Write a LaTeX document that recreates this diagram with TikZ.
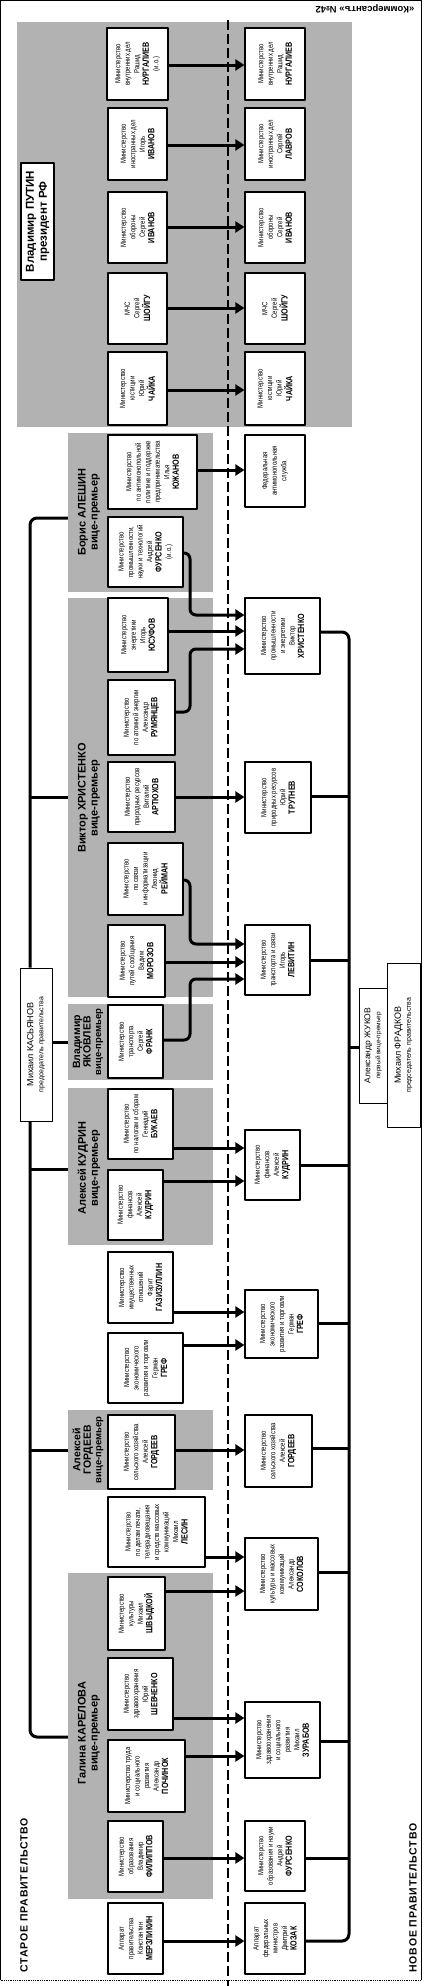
\documentclass[tikz,border=0pt]{standalone}
\usepackage{fontspec}
\setmainfont{Liberation Sans}
\newfontfamily\boxfont[FakeStretch=0.8]{Liberation Sans}
\newfontfamily\spacedfont[LetterSpace=8]{Liberation Sans}
\usetikzlibrary{arrows.meta}
\definecolor{grp}{gray}{0.7}
\newcommand{\nm}[1]{{\fontsize{9}{10}\selectfont\bfseries #1}}

\begin{document}
\begin{tikzpicture}[x=1pt,y=-1pt,line join=round,
	>={Triangle[length=9pt,width=11pt]},
	ministry/.style={draw,fill=white,line width=1.2pt,rotate=90,align=center,inner sep=1pt,
		font=\boxfont\fontsize{7.5}{9.5}\selectfont},
	group/.style={fill=grp,rotate=90,inner sep=0pt},
	vp/.style={rotate=90,align=center,font=\bfseries\fontsize{11}{12}\selectfont},
	head/.style={draw,fill=white,line width=1pt,rotate=90,align=center,inner sep=1pt},
	link/.style={line width=3pt}]
	\def\xs{30} % spine of old cabinet
	\def\xb{349} % spine of new cabinet
	\def\xd{228} % dashed border
	\def\xk{190} % bends of merged lines
	\useasboundingbox (0,0) rectangle (426,1986);
	% frame
	\draw[line width=0.8pt] (0.5,1980) -- (0.5,0.5) -- (421.5,0.5) -- (421.5,1980);
	\draw[line width=0.8pt,densely dotted] (0.5,1980) -- (421.5,1980);
	\node[rotate=180,font=\bfseries\fontsize{9.5}{10}\selectfont] (kom) at (365,9) {«Коммерсантъ» №42};
	% grey groups
	\node[group,minimum width=405,minimum height=335] (gPut) at (184.5,224.5) {};
	\node[group,minimum width=159,minimum height=145] (gAle) at (140.5,512.5) {};
	\node[group,minimum width=399,minimum height=145] (gHri) at (140.5,797.5) {};
	\node[group,minimum width=76,minimum height=145] (gYak) at (140.5,1042) {};
	\node[group,minimum width=157,minimum height=145] (gKud) at (140.5,1166.5) {};
	\node[group,minimum width=80,minimum height=145] (gGor) at (140.5,1450) {};
	\node[group,minimum width=326,minimum height=145] (gKar) at (140.5,1736) {};
	\draw[line width=1.5pt,dash pattern=on 10pt off 4pt] (\xd,20) -- (\xd,1986);
	% heads
	\node[head,line width=1.2pt,minimum width=117,minimum height=33,font=\bfseries\fontsize{11.5}{13}\selectfont] (put) at (37.5,221.5) {Владимир ПУТИН\\президент РФ};
	\node[head,minimum width=153,minimum height=32,font=\fontsize{9}{10}\selectfont] (kas) at (36,1044.5) {Михаил КАСЬЯНОВ\\{\fontsize{7}{8}\selectfont председатель правительства}};
	\node[head,minimum width=115,minimum height=28,font=\fontsize{8.5}{10}\selectfont] (zhu) at (373,1045.5) {Александр ЖУКОВ\\{\fontsize{6.5}{7.5}\selectfont первый вице-премьер}};
	\node[head,minimum width=164,minimum height=33,font=\fontsize{9}{10}\selectfont] (fra) at (403.5,1045) {Михаил ФРАДКОВ\\{\fontsize{7}{8}\selectfont председатель правительства}};
	\node[vp] (lAle) at (89,512) {Борис АЛЕШИН\\вице-премьер};
	\node[vp] (lHri) at (89,798) {Виктор ХРИСТЕНКО\\вице-премьер};
	\node[vp,font=\bfseries\fontsize{10.5}{10.5}\selectfont] (lYak) at (88,1042) {Владимир\\ЯКОВЛЕВ\\{\fontsize{9.5}{10}\selectfont вице-премьер}};
	\node[vp] (lKud) at (89,1168) {Алексей КУДРИН\\вице-премьер};
	\node[vp,font=\bfseries\fontsize{10.5}{10.5}\selectfont] (lGor) at (88,1450) {Алексей\\ГОРДЕЕВ\\{\fontsize{9.5}{10}\selectfont вице-премьер}};
	\node[vp] (lKar) at (89,1733) {Галина КАРЕЛОВА\\вице-премьер};
	\node[rotate=90,font=\spacedfont\bfseries\fontsize{10.5}{12}\selectfont] (old) at (24,1895) {СТАРОЕ ПРАВИТЕЛЬСТВО};
	\node[rotate=90,font=\spacedfont\bfseries\fontsize{10.5}{12}\selectfont] (new) at (413,1898) {НОВОЕ ПРАВИТЕЛЬСТВО};
	% old cabinet
	\node[ministry,minimum width=72,minimum height=61] (nurO) at (137.5,64) {Министерство\\внутренних дел\\Рашид\\\nm{НУРГАЛИЕВ}\\(и.о.)};
	\node[ministry,minimum width=72,minimum height=59] (ivaO) at (137.5,144) {Министерство\\иностранных дел\\Игорь\\\nm{ИВАНОВ}};
	\node[ministry,minimum width=71,minimum height=59] (obrO) at (137.5,227.5) {Министерство\\обороны\\Сергей\\\nm{ИВАНОВ}};
	\node[ministry,minimum width=71,minimum height=59] (mchO) at (137.5,308.5) {МЧС\\Сергей\\\nm{ШОЙГУ}};
	\node[ministry,minimum width=73,minimum height=59] (yusO) at (137.5,388.5) {Министерство\\юстиции\\Юрий\\\nm{ЧАЙКА}};
	\node[ministry,minimum width=74,minimum height=89] (yuzO) at (152.5,472) {Министерство\\по антимонопольной\\политике и поддержке\\предпринимательства\\Илья\\\nm{ЮЖАНОВ}};
	\node[ministry,minimum width=70,minimum height=75] (furO) at (145.5,552) {Министерство\\промышленности,\\науки и технологий\\Андрей\\\nm{ФУРСЕНКО}\\(и.о.)};
	\node[ministry,minimum width=74,minimum height=60] (eneO) at (138,635) {Министерство\\энергетики\\Игорь\\\nm{ЮСУФОВ}};
	\node[ministry,minimum width=75,minimum height=67] (atoO) at (141.5,717.5) {Министерство\\по атомной энергии\\Александр\\\nm{РУМЯНЦЕВ}};
	\node[ministry,minimum width=70,minimum height=67] (priO) at (141.5,797) {Министерство\\природных ресурсов\\Виталий\\\nm{АРТЮХОВ}};
	\node[ministry,minimum width=72,minimum height=75] (svyO) at (145.5,879) {Министерство\\по связи\\и информатизации\\Леонид\\\nm{РЕЙМАН}};
	\node[ministry,minimum width=72,minimum height=57] (mpsO) at (136.5,961) {Министерство\\путей сообщения\\Вадим\\\nm{МОРОЗОВ}};
	\node[ministry,minimum width=73,minimum height=55] (traO) at (135.5,1041.5) {Министерство\\транспорта\\Сергей\\\nm{ФРАНК}};
	\node[ministry,minimum width=70,minimum height=65] (nalO) at (140.5,1124) {Министерство\\по налогам и сборам\\Геннадий\\\nm{БУКАЕВ}};
	\node[ministry,minimum width=70,minimum height=55] (finO) at (135.5,1205) {Министерство\\финансов\\Алексей\\\nm{КУДРИН}};
	\node[ministry,minimum width=71,minimum height=65] (imuO) at (140.5,1287.5) {Министерство\\имущественных\\отношений\\Фарит\\\nm{ГАЗИЗУЛЛИН}};
	\node[ministry,minimum width=70,minimum height=75] (ecoO) at (145.5,1368) {Министерство\\экономического\\развития и торговли\\Герман\\\nm{ГРЕФ}};
	\node[ministry,minimum width=74,minimum height=67] (selO) at (141.5,1452) {Министерство\\сельского хозяйства\\Алексей\\\nm{ГОРДЕЕВ}};
	\node[ministry,minimum width=70,minimum height=97] (pecO) at (156.5,1532) {Министерство\\по делам печати,\\телерадиовещания\\и средств массовых\\коммуникаций\\Михаил\\\nm{ЛЕСИН}};
	\node[ministry,minimum width=73,minimum height=57] (kulO) at (136.5,1613.5) {Министерство\\культуры\\Михаил\\\nm{ШВЫДКОЙ}};
	\node[ministry,minimum width=72,minimum height=65] (zdrO) at (140.5,1694) {Министерство\\здравоохранения\\Юрий\\\nm{ШЕВЧЕНКО}};
	\node[ministry,minimum width=72,minimum height=77] (sotO) at (146.5,1776) {Министерство труда\\и социального\\развития\\Александр\\\nm{ПОЧИНОК}};
	\node[ministry,minimum width=71,minimum height=55] (obzO) at (135.5,1856.5) {Министерство\\образования\\Владимир\\\nm{ФИЛИППОВ}};
	\node[ministry,minimum width=71,minimum height=55] (appO) at (135.5,1938.5) {Аппарат\\правительства\\Константин\\\nm{МЕРЗЛИКИН}};
	% new cabinet
	\node[ministry,minimum width=72,minimum height=60] (nurN) at (275,64) {Министерство\\внутренних дел\\Рашид\\\nm{НУРГАЛИЕВ}};
	\node[ministry,minimum width=72,minimum height=60] (lavN) at (275,144) {Министерство\\иностранных дел\\Сергей\\\nm{ЛАВРОВ}};
	\node[ministry,minimum width=71,minimum height=60] (obrN) at (275,227.5) {Министерство\\обороны\\Сергей\\\nm{ИВАНОВ}};
	\node[ministry,minimum width=71,minimum height=60] (mchN) at (275,308.5) {МЧС\\Сергей\\\nm{ШОЙГУ}};
	\node[ministry,minimum width=73,minimum height=60] (yusN) at (275,388.5) {Министерство\\юстиции\\Юрий\\\nm{ЧАЙКА}};
	\node[ministry,minimum width=72,minimum height=60] (fasN) at (275,471) {Федеральная\\антимонопольная\\служба};
	\node[ministry,minimum width=76,minimum height=75] (hriN) at (282.5,636) {Министерство\\промышленности\\и энергетики\\Виктор\\\nm{ХРИСТЕНКО}};
	\node[ministry,minimum width=71,minimum height=66] (prnN) at (278,797.5) {Министерство\\природных ресурсов\\Юрий\\\nm{ТРУТНЕВ}};
	\node[ministry,minimum width=70,minimum height=65] (levN) at (277.5,960) {Министерство\\транспорта и связи\\Игорь\\\nm{ЛЕВИТИН}};
	\node[ministry,minimum width=70,minimum height=55] (finN) at (272.5,1165) {Министерство\\финансов\\Алексей\\\nm{КУДРИН}};
	\node[ministry,minimum width=68,minimum height=73] (ecoN) at (281.5,1324) {Министерство\\экономического\\развития и торговли\\Герман\\\nm{ГРЕФ}};
	\node[ministry,minimum width=72,minimum height=67] (selN) at (278.5,1451) {Министерство\\сельского хозяйства\\Алексей\\\nm{ГОРДЕЕВ}};
	\node[ministry,minimum width=72,minimum height=73] (kulN) at (281.5,1574) {Министерство\\культуры и массовых\\коммуникаций\\Александр\\\nm{СОКОЛОВ}};
	\node[ministry,minimum width=76,minimum height=75] (zurN) at (282.5,1740) {Министерство\\здравоохранения\\и социального\\развития\\Михаил\\\nm{ЗУРАБОВ}};
	\node[ministry,minimum width=70,minimum height=60] (obzN) at (275,1856) {Министерство\\образования и науки\\Андрей\\\nm{ФУРСЕНКО}};
	\node[ministry,minimum width=71,minimum height=60] (appN) at (275,1938.5) {Аппарат\\федеральных\\министров\\Дмитрий\\\nm{КОЗАК}};
	% old -> new
	\draw[link,->] (nurO.south |- 0,65) -- (nurN.north |- 0,65);
	\draw[link,->] (ivaO.south |- 0,145) -- (lavN.north |- 0,145);
	\draw[link,->] (obrO.south |- 0,227) -- (obrN.north |- 0,227);
	\draw[link,->] (mchO.south |- 0,308) -- (mchN.north |- 0,308);
	\draw[link,->] (yusO.south |- 0,390) -- (yusN.north |- 0,390);
	\draw[link,->] (yuzO.south |- 0,470) -- (fasN.north |- 0,470);
	\draw[link,->,rounded corners=6] (furO.south |- 0,553) -- (\xk,553) -- (\xk,615) -- (hriN.north |- 0,615);
	\draw[link,->] (eneO.south |- 0,631) -- (hriN.north |- 0,631);
	\draw[link,->,rounded corners=6] (atoO.south |- 0,712) -- (\xk,712) -- (\xk,649) -- (hriN.north |- 0,649);
	\draw[link,->] (priO.south |- 0,797) -- (prnN.north |- 0,797);
	\draw[link,->,rounded corners=6] (svyO.south |- 0,880) -- (\xk,880) -- (\xk,944) -- (levN.north |- 0,944);
	\draw[link,->] (mpsO.south |- 0,962) -- (levN.north |- 0,962);
	\draw[link,->,rounded corners=6] (traO.south |- 0,1040) -- (\xk,1040) -- (\xk,979) -- (levN.north |- 0,979);
	\draw[link,->] (nalO.south |- 0,1148) -- (finN.north |- 0,1148);
	\draw[link,->] (finO.south |- 0,1181) -- (finN.north |- 0,1181);
	\draw[link,->] (imuO.south |- 0,1312) -- (ecoN.north |- 0,1312);
	\draw[link,->] (ecoO.south |- 0,1345) -- (ecoN.north |- 0,1345);
	\draw[link,->] (selO.south |- 0,1450) -- (selN.north |- 0,1450);
	\draw[link,->] (pecO.south |- 0,1557) -- (kulN.north |- 0,1557);
	\draw[link,->] (kulO.south |- 0,1591) -- (kulN.north |- 0,1591);
	\draw[link,->] (zdrO.south |- 0,1718) -- (zurN.north |- 0,1718);
	\draw[link,->] (sotO.south |- 0,1756) -- (zurN.north |- 0,1756);
	\draw[link,->] (obzO.south |- 0,1858) -- (obzN.north |- 0,1858);
	\draw[link,->] (appO.south |- 0,1941) -- (appN.north |- 0,1941);
	% old spine
	\draw[link,rounded corners=7] (gAle.north |- 0,518) -- (\xs,518) -- (kas.east -| \xs,0);
	\draw[link,rounded corners=7] (kas.west -| \xs,0) -- (\xs,1737) -- (gKar.north |- 0,1737);
	\draw[link] (\xs,797) -- (gHri.north |- 0,797);
	\draw[link] (kas.south |- 0,1042) -- (gYak.north |- 0,1042);
	\draw[link] (\xs,1169) -- (gKud.north |- 0,1169);
	\draw[link] (\xs,1450) -- (gGor.north |- 0,1450);
	% new spine
	\draw[link,rounded corners=7] (hriN.south |- 0,632) -- (\xb,632) -- (\xb,1941) -- (appN.south |- 0,1941);
	\draw[link] (prnN.south |- 0,796) -- (\xb,796);
	\draw[link] (levN.south |- 0,960) -- (\xb,960);
	\draw[link] (\xb,1047) -- (zhu.north |- 0,1047);
	\draw[link] (finN.south |- 0,1165) -- (\xb,1165);
	\draw[link] (ecoN.south |- 0,1323) -- (\xb,1323);
	\draw[link] (selN.south |- 0,1448) -- (\xb,1448);
	\draw[link] (kulN.south |- 0,1572) -- (\xb,1572);
	\draw[link] (zurN.south |- 0,1741) -- (\xb,1741);
	\draw[link] (obzN.south |- 0,1858) -- (\xb,1858);
\end{tikzpicture}
\end{document}
